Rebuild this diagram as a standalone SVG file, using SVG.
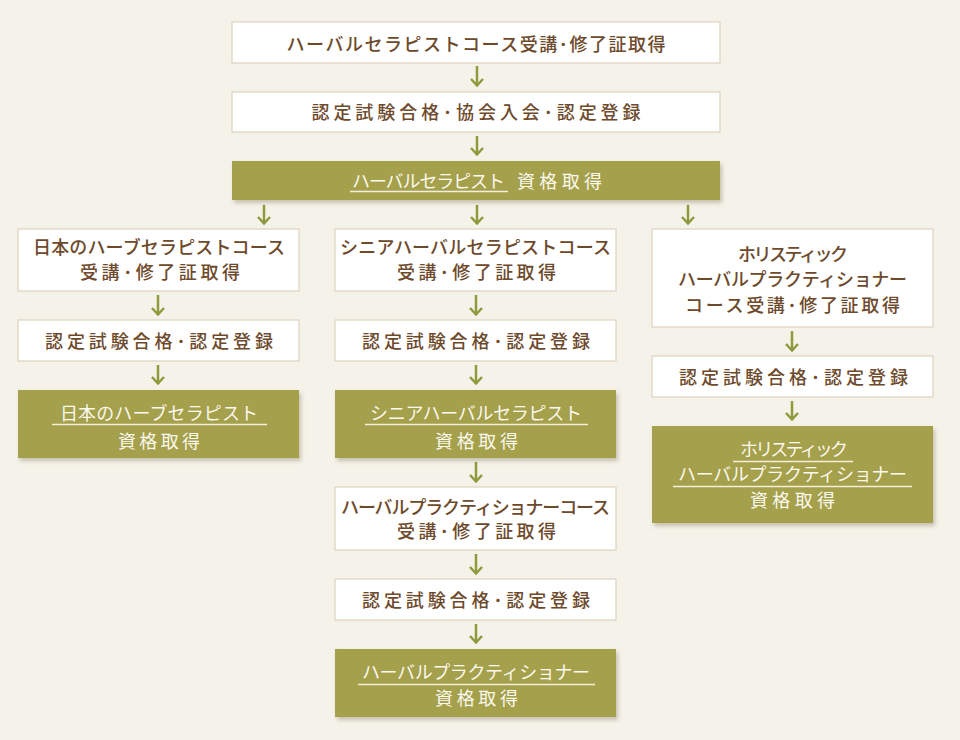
<svg xmlns="http://www.w3.org/2000/svg" width="960" height="740" viewBox="0 0 960 740">
<defs>
<style>
.bg{fill:#f5f2e9}
.wb{fill:#ffffff;stroke:#ddd3c0;stroke-width:1.2}
.gb{fill:#a5a04b}
.t{font-family:"Noto Sans CJK JP","Noto Sans",sans-serif;font-size:18px;fill:#6e4a2c;text-anchor:middle;font-weight:500}
.tw{font-family:"Noto Sans CJK JP","Noto Sans",sans-serif;font-size:18px;fill:#fbf8ee;text-anchor:middle}
.ul{stroke:#f3efdc;stroke-width:1.3}
.ar{stroke:#8f9a3d;stroke-width:2.5;fill:none}
.ah{stroke:#8f9a3d;stroke-width:2.5;fill:none;stroke-linejoin:miter}
</style>
<filter id="sh" x="-5%" y="-10%" width="115%" height="130%">
<feDropShadow dx="2" dy="3" stdDeviation="2" flood-color="#6b6440" flood-opacity="0.35"/>
</filter>
<marker id="arr" viewBox="0 0 10 14" refX="8.5" refY="7" markerWidth="10" markerHeight="14" markerUnits="userSpaceOnUse" orient="auto">
<path d="M1.5,1 L8,7 L1.5,13" class="ah"/>
</marker>
</defs>
<rect class="bg" x="0" y="0" width="960" height="740"/>

<g id="connectors">
<line class="ar" x1="477" y1="66" x2="477" y2="86" marker-end="url(#arr)"/>
<line class="ar" x1="477" y1="136" x2="477" y2="155" marker-end="url(#arr)"/>
<line class="ar" x1="264" y1="205" x2="264" y2="224" marker-end="url(#arr)"/>
<line class="ar" x1="477" y1="205" x2="477" y2="224" marker-end="url(#arr)"/>
<line class="ar" x1="688" y1="205" x2="688" y2="224" marker-end="url(#arr)"/>
<line class="ar" x1="158" y1="295" x2="158" y2="315" marker-end="url(#arr)"/>
<line class="ar" x1="158" y1="365" x2="158" y2="384" marker-end="url(#arr)"/>
<line class="ar" x1="476" y1="295" x2="476" y2="315" marker-end="url(#arr)"/>
<line class="ar" x1="476" y1="365" x2="476" y2="384" marker-end="url(#arr)"/>
<line class="ar" x1="476" y1="462" x2="476" y2="482" marker-end="url(#arr)"/>
<line class="ar" x1="476" y1="554" x2="476" y2="574" marker-end="url(#arr)"/>
<line class="ar" x1="476" y1="624" x2="476" y2="643" marker-end="url(#arr)"/>
<line class="ar" x1="792" y1="331" x2="792" y2="351" marker-end="url(#arr)"/>
<line class="ar" x1="792" y1="401" x2="792" y2="420" marker-end="url(#arr)"/>
</g>

<g id="n1">
<rect class="wb" x="232" y="22" width="488" height="41"/>
<text class="t" x="476" y="50.5" textLength="379" lengthAdjust="spacing">ハーバルセラピストコース受講･修了証取得</text>
</g>
<g id="n2">
<rect class="wb" x="232" y="92" width="488" height="40"/>
<text class="t" x="476" y="118.5" textLength="329" lengthAdjust="spacing">認定試験合格･協会入会･認定登録</text>
</g>
<g id="n3">
<rect class="gb" x="232" y="161" width="488" height="39" filter="url(#sh)"/>
<text class="tw" x="428.5" y="187.5" textLength="153" lengthAdjust="spacing">ハーバルセラピスト</text>
<text class="tw" x="559.5" y="187.5" textLength="85" lengthAdjust="spacing">資格取得</text>
<line class="ul" x1="350" y1="191.5" x2="508" y2="191.5"/>
</g>

<g id="c1a">
<rect class="wb" x="18" y="229" width="281" height="62"/>
<text class="t" x="159" y="253.5" textLength="252" lengthAdjust="spacing">日本のハーブセラピストコース</text>
<text class="t" x="160" y="278.5" textLength="160" lengthAdjust="spacing">受講･修了証取得</text>
</g>
<g id="c1b">
<rect class="wb" x="18" y="320" width="281" height="41"/>
<text class="t" x="159" y="347.5" textLength="228" lengthAdjust="spacing">認定試験合格･認定登録</text>
</g>
<g id="c1c">
<rect class="gb" x="18" y="390" width="281" height="68" filter="url(#sh)"/>
<text class="tw" x="159" y="419.5" textLength="198" lengthAdjust="spacing">日本のハーブセラピスト</text>
<line class="ul" x1="52" y1="424.5" x2="267" y2="424.5"/>
<text class="tw" x="159" y="447.5" font-size="19" textLength="82" lengthAdjust="spacing">資格取得</text>
</g>

<g id="c2a">
<rect class="wb" x="335" y="229" width="281" height="62"/>
<text class="t" x="475.5" y="253.5" textLength="271" lengthAdjust="spacing">シニアハーバルセラピストコース</text>
<text class="t" x="476.5" y="278.5" textLength="159" lengthAdjust="spacing">受講･修了証取得</text>
</g>
<g id="c2b">
<rect class="wb" x="335" y="320" width="281" height="41"/>
<text class="t" x="476" y="347.5" textLength="228" lengthAdjust="spacing">認定試験合格･認定登録</text>
</g>
<g id="c2c">
<rect class="gb" x="335" y="390" width="281" height="68" filter="url(#sh)"/>
<text class="tw" x="476" y="419.5" textLength="212" lengthAdjust="spacing">シニアハーバルセラピスト</text>
<line class="ul" x1="365" y1="424.5" x2="588" y2="424.5"/>
<text class="tw" x="476.5" y="447.5" font-size="19" textLength="83" lengthAdjust="spacing">資格取得</text>
</g>
<g id="c2d">
<rect class="wb" x="335" y="487" width="281" height="63"/>
<text class="t" x="475.5" y="513.5" textLength="269" lengthAdjust="spacing">ハーバルプラクティショナーコース</text>
<text class="t" x="476.5" y="537.5" textLength="159" lengthAdjust="spacing">受講･修了証取得</text>
</g>
<g id="c2e">
<rect class="wb" x="335" y="579" width="281" height="41"/>
<text class="t" x="476" y="606.5" textLength="228" lengthAdjust="spacing">認定試験合格･認定登録</text>
</g>
<g id="c2f">
<rect class="gb" x="335" y="649" width="281" height="68" filter="url(#sh)"/>
<text class="tw" x="476" y="678.5" textLength="228" lengthAdjust="spacing">ハーバルプラクティショナー</text>
<line class="ul" x1="358" y1="684.5" x2="595" y2="684.5"/>
<text class="tw" x="476.5" y="704.5" font-size="19" textLength="83" lengthAdjust="spacing">資格取得</text>
</g>

<g id="c3a">
<rect class="wb" x="652" y="229" width="281" height="98"/>
<text class="t" x="793" y="260.5" textLength="110" lengthAdjust="spacing">ホリスティック</text>
<text class="t" x="792.5" y="285.5" textLength="229" lengthAdjust="spacing">ハーバルプラクティショナー</text>
<text class="t" x="792.5" y="311.5" textLength="215" lengthAdjust="spacing">コース受講･修了証取得</text>
</g>
<g id="c3b">
<rect class="wb" x="652" y="356" width="281" height="41"/>
<text class="t" x="793.5" y="383.5" textLength="229" lengthAdjust="spacing">認定試験合格･認定登録</text>
</g>
<g id="c3c">
<rect class="gb" x="652" y="426" width="281" height="97" filter="url(#sh)"/>
<text class="tw" x="794" y="455.5" textLength="108" lengthAdjust="spacing">ホリスティック</text>
<line class="ul" x1="733" y1="461.5" x2="853" y2="461.5"/>
<text class="tw" x="792.5" y="480.5" textLength="229" lengthAdjust="spacing">ハーバルプラクティショナー</text>
<line class="ul" x1="673" y1="486.5" x2="912" y2="486.5"/>
<text class="tw" x="792.5" y="506.5" font-size="19" textLength="85" lengthAdjust="spacing">資格取得</text>
</g>
</svg>
